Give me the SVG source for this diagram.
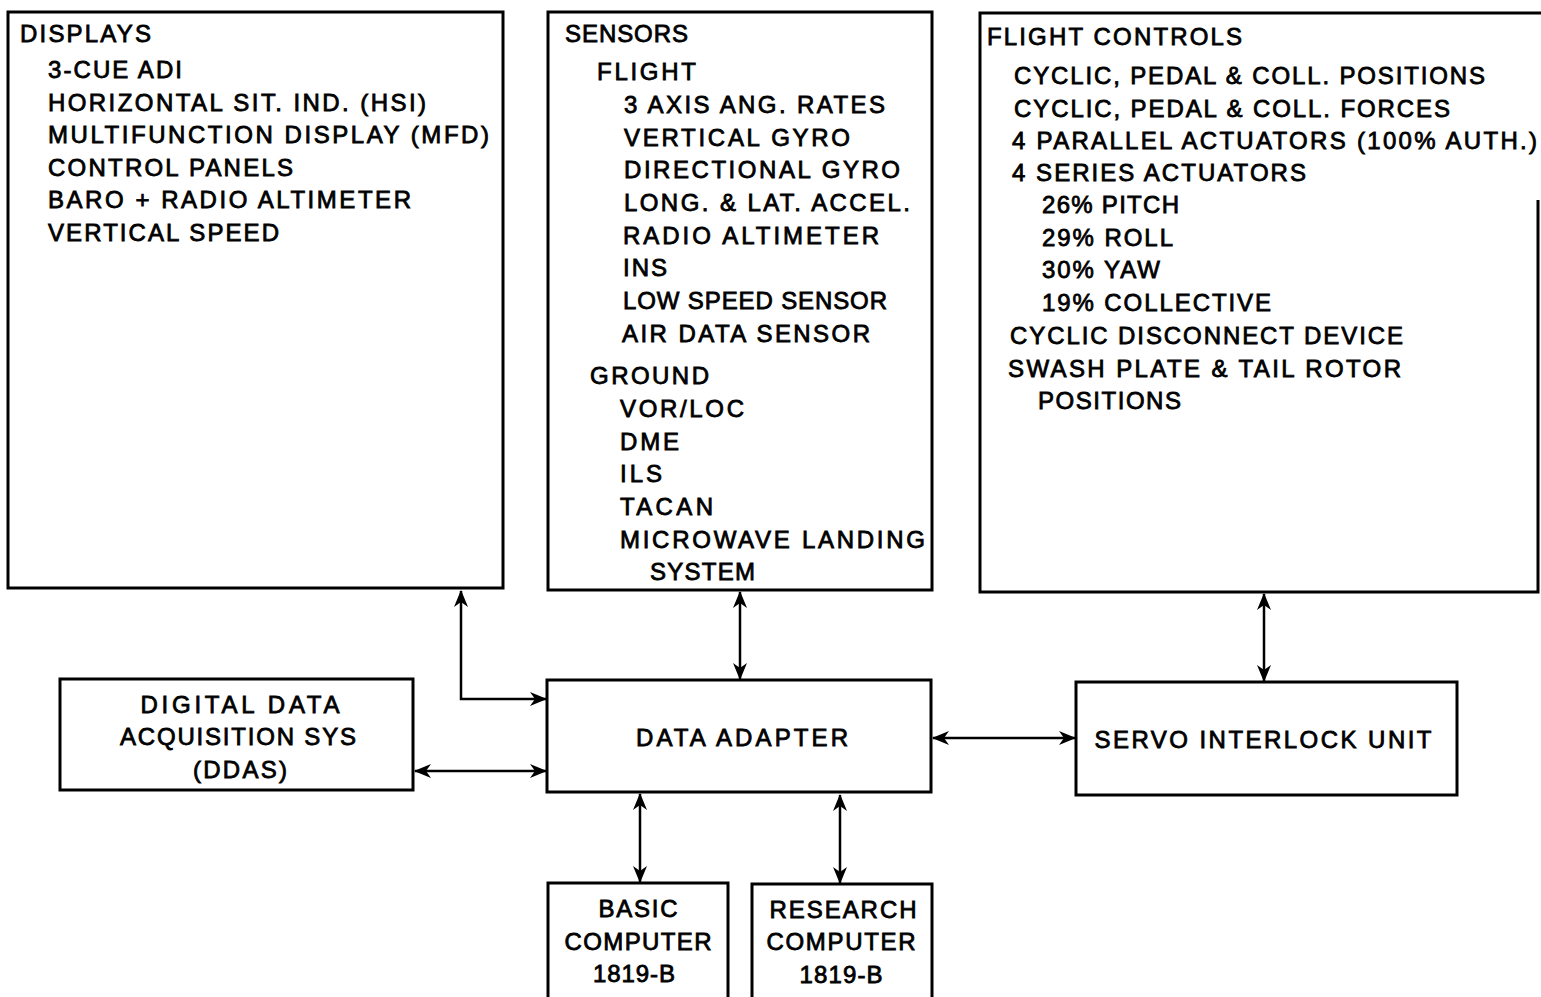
<svg xmlns="http://www.w3.org/2000/svg" width="1541" height="997" viewBox="0 0 1541 997">
  <style>
    .box { fill: #fff; stroke: #000; stroke-width: 3; }
    .edge { fill: none; stroke: #000; stroke-width: 3; }
    .wire { fill: none; stroke: #000; stroke-width: 2.5; }
    text { font-family: "Liberation Sans", Arial, sans-serif; font-size: 24px; fill: #000; stroke: #000; stroke-width: 0.8; }
    .c { text-anchor: middle; }
  </style>
  <defs>
    <marker id="arrow" markerUnits="userSpaceOnUse" markerWidth="18" markerHeight="14" refX="16" refY="7" orient="auto-start-reverse">
      <path d="M0,0 L17,7 L0,14 L5,7 z" fill="#000"/>
    </marker>
  </defs>
  <rect width="1541" height="997" fill="#fff"/>

  <g id="displays">
    <rect class="box" x="8" y="12" width="495" height="576"/>
    <text x="20" y="42" textLength="131" lengthAdjust="spacing">DISPLAYS</text>
    <text x="48" y="78" textLength="134" lengthAdjust="spacing">3-CUE ADI</text>
    <text x="48" y="111" textLength="378" lengthAdjust="spacing">HORIZONTAL SIT. IND. (HSI)</text>
    <text x="48" y="143" textLength="441" lengthAdjust="spacing">MULTIFUNCTION DISPLAY (MFD)</text>
    <text x="48" y="176" textLength="245" lengthAdjust="spacing">CONTROL PANELS</text>
    <text x="48" y="208" textLength="363" lengthAdjust="spacing">BARO + RADIO ALTIMETER</text>
    <text x="48" y="241" textLength="231" lengthAdjust="spacing">VERTICAL SPEED</text>
  </g>

  <g id="sensors">
    <rect class="box" x="548" y="12" width="384" height="578"/>
    <text x="565" y="42" textLength="123" lengthAdjust="spacing">SENSORS</text>
    <text x="597" y="80" textLength="99" lengthAdjust="spacing">FLIGHT</text>
    <text x="624" y="113" textLength="261" lengthAdjust="spacing">3 AXIS ANG. RATES</text>
    <text x="624" y="146" textLength="226" lengthAdjust="spacing">VERTICAL GYRO</text>
    <text x="624" y="178" textLength="276" lengthAdjust="spacing">DIRECTIONAL GYRO</text>
    <text x="624" y="211" textLength="286" lengthAdjust="spacing">LONG. &amp; LAT. ACCEL.</text>
    <text x="623" y="244" textLength="256" lengthAdjust="spacing">RADIO ALTIMETER</text>
    <text x="623" y="276" textLength="44" lengthAdjust="spacing">INS</text>
    <text x="623" y="309" textLength="264" lengthAdjust="spacing">LOW SPEED SENSOR</text>
    <text x="622" y="342" textLength="248" lengthAdjust="spacing">AIR DATA SENSOR</text>
    <text x="590" y="384" textLength="119" lengthAdjust="spacing">GROUND</text>
    <text x="620" y="417" textLength="124" lengthAdjust="spacing">VOR/LOC</text>
    <text x="620" y="450" textLength="59" lengthAdjust="spacing">DME</text>
    <text x="620" y="482" textLength="42" lengthAdjust="spacing">ILS</text>
    <text x="620" y="515" textLength="93" lengthAdjust="spacing">TACAN</text>
    <text x="620" y="548" textLength="305" lengthAdjust="spacing">MICROWAVE LANDING</text>
    <text x="650" y="580" textLength="105" lengthAdjust="spacing">SYSTEM</text>
  </g>

  <g id="flight-controls">
    <rect x="980" y="13" width="561" height="579" fill="#fff"/>
    <path class="edge" d="M1541,13 H980 V592 H1538 V200"/>
    <text x="987" y="45" textLength="255" lengthAdjust="spacing">FLIGHT CONTROLS</text>
    <text x="1014" y="84" textLength="471" lengthAdjust="spacing">CYCLIC, PEDAL &amp; COLL. POSITIONS</text>
    <text x="1014" y="117" textLength="436" lengthAdjust="spacing">CYCLIC, PEDAL &amp; COLL. FORCES</text>
    <text x="1012" y="149" textLength="525" lengthAdjust="spacing">4 PARALLEL ACTUATORS (100% AUTH.)</text>
    <text x="1012" y="181" textLength="294" lengthAdjust="spacing">4 SERIES ACTUATORS</text>
    <text x="1042" y="213" textLength="137" lengthAdjust="spacing">26% PITCH</text>
    <text x="1042" y="246" textLength="131" lengthAdjust="spacing">29% ROLL</text>
    <text x="1042" y="278" textLength="118" lengthAdjust="spacing">30% YAW</text>
    <text x="1042" y="311" textLength="229" lengthAdjust="spacing">19% COLLECTIVE</text>
    <text x="1010" y="344" textLength="393" lengthAdjust="spacing">CYCLIC DISCONNECT DEVICE</text>
    <text x="1008" y="377" textLength="393" lengthAdjust="spacing">SWASH PLATE &amp; TAIL ROTOR</text>
    <text x="1038" y="409" textLength="143" lengthAdjust="spacing">POSITIONS</text>
  </g>

  <g id="ddas">
    <rect class="box" x="60" y="679" width="353" height="111"/>
    <text class="c" x="240" y="713" textLength="199" lengthAdjust="spacing">DIGITAL DATA</text>
    <text class="c" x="238" y="745" textLength="236" lengthAdjust="spacing">ACQUISITION SYS</text>
    <text class="c" x="240" y="778" textLength="94" lengthAdjust="spacing">(DDAS)</text>
  </g>

  <g id="data-adapter">
    <rect class="box" x="547" y="680" width="384" height="112"/>
    <text class="c" x="742" y="746" textLength="212" lengthAdjust="spacing">DATA ADAPTER</text>
  </g>

  <g id="servo-interlock">
    <rect class="box" x="1076" y="682" width="381" height="113"/>
    <text class="c" x="1263" y="748" textLength="337" lengthAdjust="spacing">SERVO INTERLOCK UNIT</text>
  </g>

  <g id="basic-computer">
    <rect class="box" x="548" y="883" width="180" height="120"/>
    <text class="c" x="638" y="917" textLength="79" lengthAdjust="spacing">BASIC</text>
    <text class="c" x="638" y="950" textLength="147" lengthAdjust="spacing">COMPUTER</text>
    <text class="c" x="634" y="982" textLength="82" lengthAdjust="spacing">1819-B</text>
  </g>

  <g id="research-computer">
    <rect class="box" x="752" y="884" width="180" height="120"/>
    <text class="c" x="843" y="918" textLength="147" lengthAdjust="spacing">RESEARCH</text>
    <text class="c" x="841" y="950" textLength="149" lengthAdjust="spacing">COMPUTER</text>
    <text class="c" x="841" y="983" textLength="83" lengthAdjust="spacing">1819-B</text>
  </g>

  <g id="connectors">
    <path class="wire" d="M461,591 V699 H546" marker-start="url(#arrow)" marker-end="url(#arrow)"/>
    <path class="wire" d="M415,771 H546" marker-start="url(#arrow)" marker-end="url(#arrow)"/>
    <path class="wire" d="M740,592 V679" marker-start="url(#arrow)" marker-end="url(#arrow)"/>
    <path class="wire" d="M933,738 H1075" marker-start="url(#arrow)" marker-end="url(#arrow)"/>
    <path class="wire" d="M1264,594 V681" marker-start="url(#arrow)" marker-end="url(#arrow)"/>
    <path class="wire" d="M640,794 V882" marker-start="url(#arrow)" marker-end="url(#arrow)"/>
    <path class="wire" d="M840,795 V883" marker-start="url(#arrow)" marker-end="url(#arrow)"/>
  </g>
</svg>
